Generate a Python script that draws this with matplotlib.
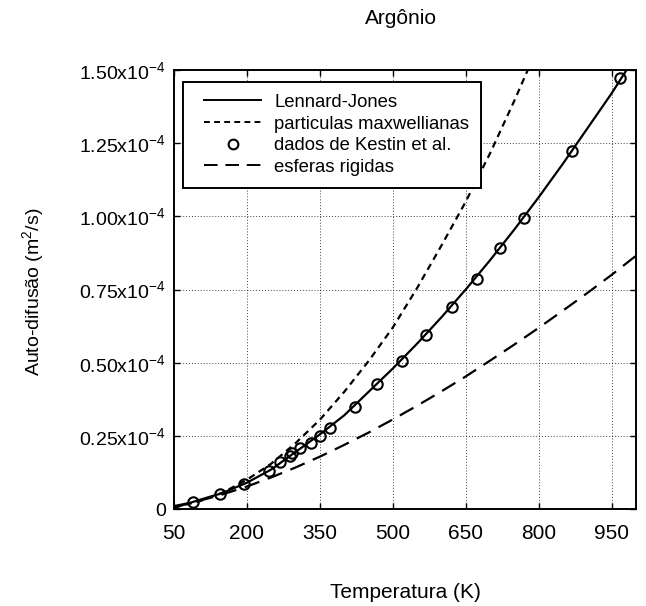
import numpy as np
import matplotlib.pyplot as plt
from matplotlib.lines import Line2D
from matplotlib.legend_handler import HandlerLine2D

plt.rcParams['font.family'] = ['Liberation Sans', 'DejaVu Sans']
plt.rcParams['mathtext.fontset'] = 'custom'
plt.rcParams['mathtext.rm'] = 'Liberation Sans'
plt.rcParams['mathtext.it'] = 'Liberation Sans'

# values in units of 1e-4 m^2/s
T_curve = np.array([50, 100, 150, 200, 250, 300, 350, 400, 450, 500,
                    550, 600, 650, 700, 750, 800, 850, 900, 950, 1000])
lennard_jones = np.array([0.004, 0.03, 0.055, 0.09, 0.135, 0.195, 0.255, 0.32, 0.40, 0.48,
                          0.565, 0.655, 0.75, 0.85, 0.955, 1.065, 1.18, 1.30, 1.42, 1.55])
T_maxwell = np.array([50, 100, 150, 200, 250, 300, 350, 400, 450, 500,
                      550, 600, 650, 700, 750, 800])
maxwell = np.array([0.006, 0.025, 0.056, 0.10, 0.155, 0.225, 0.305, 0.40, 0.505, 0.62,
                    0.755, 0.90, 1.05, 1.215, 1.395, 1.585])
esferas = np.array([0.01, 0.027, 0.05, 0.077, 0.108, 0.142, 0.179, 0.219, 0.261, 0.306,
                    0.353, 0.402, 0.453, 0.507, 0.562, 0.619, 0.678, 0.738, 0.80, 0.865])

T_kestin = np.array([90, 145, 195, 246, 269, 288, 293, 309, 331, 350, 371,
                     422, 468, 520, 569, 621, 673, 720, 770, 869, 967])
D_kestin = np.array([0.025, 0.05, 0.087, 0.13, 0.16, 0.18, 0.19, 0.21, 0.224, 0.25, 0.278,
                     0.349, 0.426, 0.507, 0.595, 0.689, 0.787, 0.891, 0.996, 1.223, 1.474])

xticks = [50, 200, 350, 500, 650, 800, 950]
yticks = [0, 0.25, 0.5, 0.75, 1.0, 1.25, 1.5]
ytick_labels = ['0'] + ['%.2fx10$^{-4}$' % v for v in yticks[1:]]

scale = 1e-4

fig = plt.figure(figsize=(6.46, 6.06), dpi=100)
ax = fig.add_axes([0.2693, 0.160, 0.715, 0.7244])

ax.plot(T_curve, lennard_jones * scale, color='black', lw=1.6)
ax.plot(T_maxwell, maxwell * scale, color='black', lw=1.6, dashes=(3.0, 2.2))
ax.plot(T_kestin, D_kestin * scale, 'o', mfc='none', mec='black', mew=1.5, ms=7.5)
ax.plot(T_curve, esferas * scale, color='black', lw=1.6, dashes=(7, 4))

ax.set_xlim(50, 1000)
ax.set_ylim(0, 1.5e-4)
ax.set_xticks(xticks)
ax.set_yticks([v * scale for v in yticks])
ax.set_yticklabels(ytick_labels)
ax.tick_params(direction='in', length=4, width=1, top=True, right=True)
ax.tick_params(axis='x', labelsize=15, pad=11)
ax.tick_params(axis='y', labelsize=14, pad=6)
ax.grid(True, linestyle=(0, (1, 2)), color='black', lw=0.7, alpha=0.75)
for s in ax.spines.values():
    s.set_linewidth(1.4)

handles = [
    Line2D([], [], color='black', lw=1.4),
    Line2D([], [], color='black', lw=1.4, dashes=(3.0, 2.2)),
    Line2D([], [], ls='none', marker='o', mfc='none', mec='black', mew=1.5, ms=7),
    Line2D([], [], color='black', lw=1.4, dashes=(7, 4)),
]
labels = ['Lennard-Jones', 'particulas maxwellianas', 'dados de Kestin et al.', 'esferas rigidas']
leg = ax.legend(handles, labels, loc='upper left', bbox_to_anchor=(0.019, 0.973),
                borderaxespad=0, fontsize=13.3, handlelength=3.6, handletextpad=0.7,
                labelspacing=0.25, borderpad=0.65, fancybox=False, framealpha=1,
                edgecolor='black', handler_map={Line2D: HandlerLine2D(xpad=0.5)})
leg.get_frame().set_linewidth(1.4)

fig.text(401 / 646, 1 - 18 / 606, 'Argônio', ha='center', va='center', fontsize=15)
fig.text(405 / 646, 1 - 593 / 606, 'Temperatura (K)', ha='center', va='center', fontsize=15)
fig.text(33 / 646, 1 - 292 / 606, 'Auto-difusão (m$^2$/s)', ha='center', va='center',
         rotation=90, fontsize=14)

fig.savefig('out.png', dpi=100)
